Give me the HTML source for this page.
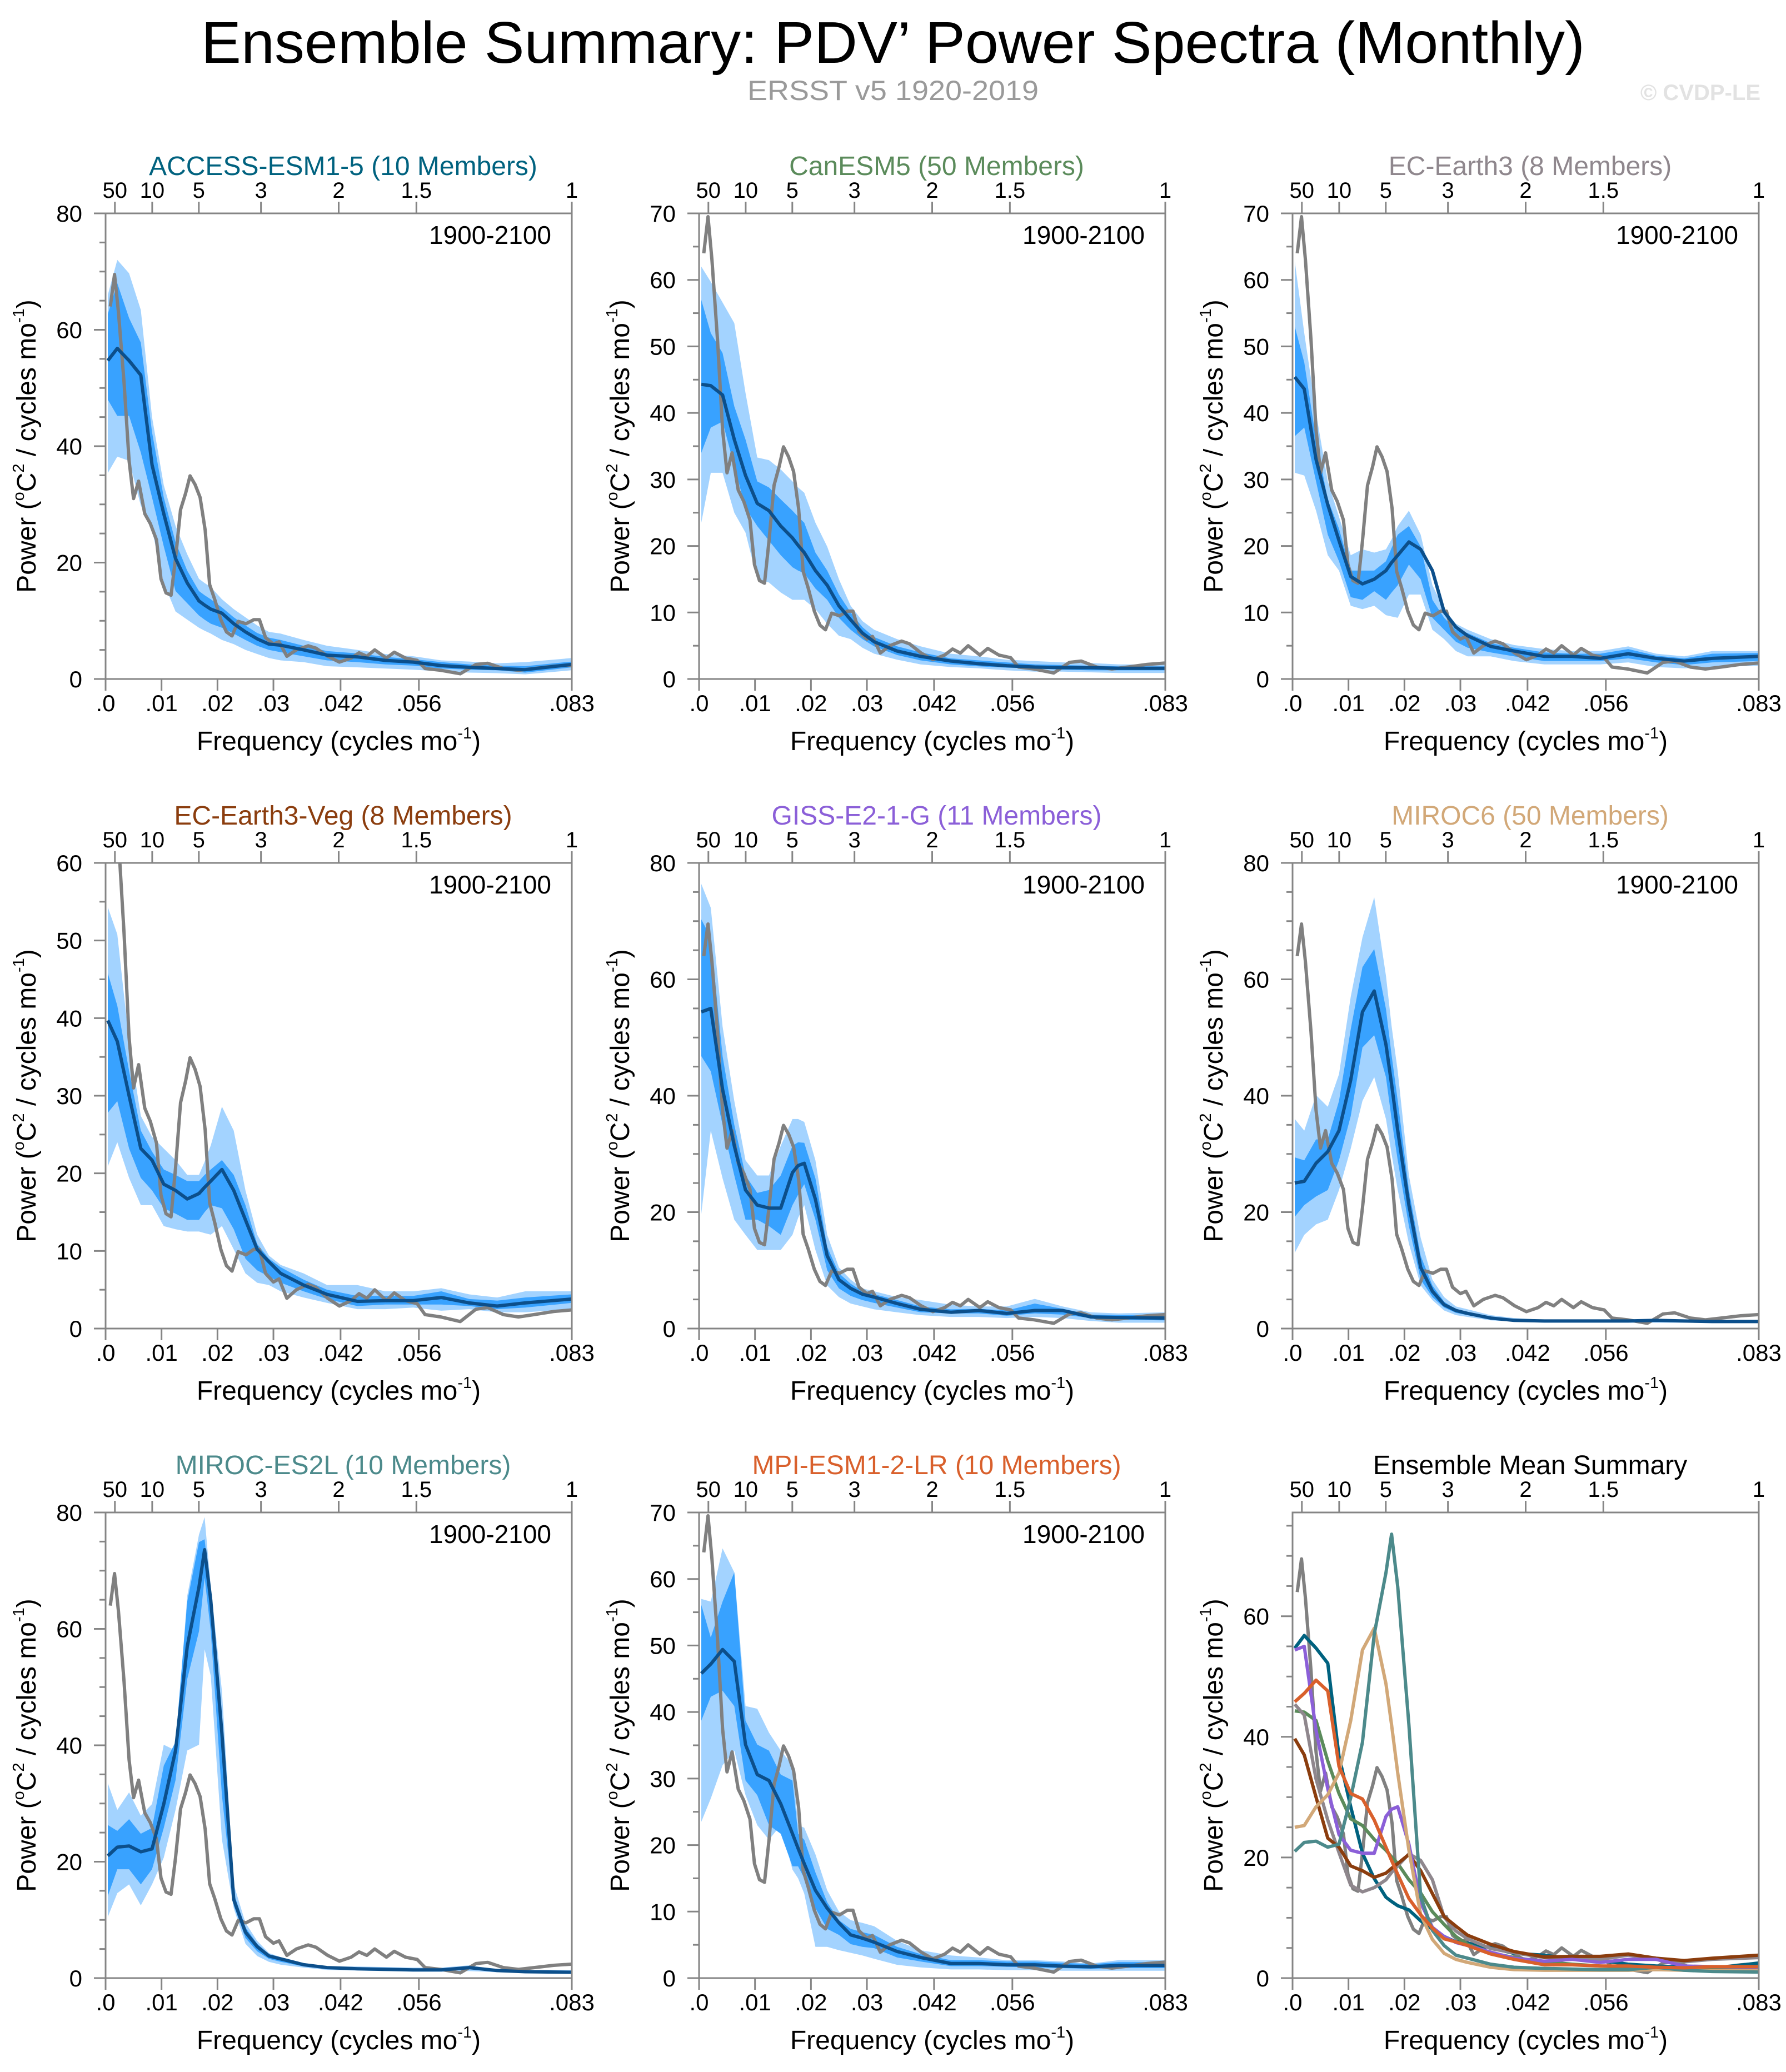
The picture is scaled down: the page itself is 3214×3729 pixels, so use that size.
<!DOCTYPE html>
<html>
<head>
<meta charset="utf-8">
<style>
  html,body{margin:0;padding:0;background:#fff;}
  svg{display:block;font-family:"Liberation Sans",Arial,sans-serif;}
</style>
</head>
<body>
<svg id="chart" xmlns="http://www.w3.org/2000/svg" width="3214" height="3729" viewBox="0 0 3214 3729">
  <rect x="0" y="0" width="3214" height="3729" fill="#ffffff"/>
  <text x="1607" y="113" font-size="106" text-anchor="middle" fill="#000" textLength="2490" lengthAdjust="spacingAndGlyphs">Ensemble Summary: PDV’ Power Spectra (Monthly)</text>
  <text x="1607" y="180" font-size="50" text-anchor="middle" fill="#9a9a9a" textLength="524" lengthAdjust="spacingAndGlyphs">ERSST v5 1920-2019</text>
  <text x="3168" y="180" font-size="40" font-weight="bold" text-anchor="end" fill="#e2e2e2">© CVDP-LE</text>
</svg>
<script>
// ---------- data ----------
const freqGrid = [.0004,.0021,.0042,.0063,.0083,.0104,.0125,.0146,.0167,.0177,.0188,.0208,.0229,.025,.0271,.0292,.0313,.0354,.0396,.045,.05,.055,.06,.065,.07,.075,.0833];

const obsFreq = [.00084,.0016,.0023,.0033,.0042,.005,.0059,.007,.008,.0091,.0099,.0108,.0117,.0125,.0134,.0143,.0151,.016,.0169,.0178,.0186,.0195,.0206,.0216,.0226,.0237,.0251,.0265,.0275,.0286,.03,.031,.0324,.0341,.0362,.0376,.0397,.0418,.0439,.0453,.0467,.0481,.0502,.0516,.0536,.0557,.0571,.0599,.0634,.0662,.0683,.0711,.0738,.0766,.0801,.0833];
const obsPower = [64,69.5,63,51,37.5,31,34,28.4,26.7,23.9,17.2,14.8,14.4,20.7,29.1,31.9,34.9,33.4,31.2,25.6,16.2,13.7,10.2,8.1,7.4,9.9,9.5,10.2,10.2,7.1,6.0,6.4,3.9,5.0,5.7,5.3,3.9,2.9,3.6,4.5,3.9,5.0,3.6,4.6,3.6,3.2,1.8,1.5,0.9,2.5,2.7,1.8,1.5,1.8,2.2,2.4];

const modelNames = ["ACCESS-ESM1-5 (10 Members)","CanESM5 (50 Members)","EC-Earth3 (8 Members)","EC-Earth3-Veg (8 Members)","GISS-E2-1-G (11 Members)","MIROC6 (50 Members)","MIROC-ES2L (10 Members)","MPI-ESM1-2-LR (10 Members)"];
const modelColors = ["#00627f","#5b8b5b","#8f878d","#8b3d0e","#8b5fd8","#d2a878","#4c8a8b","#d9602c"];
const yMaxes = [80,70,70,60,80,80,80,70,77.2];
const yMajorSteps = [20,10,10,10,20,20,20,10,20];

const accessMean = [54.7,56.8,54.7,52.2,36.8,28.4,20.7,16.5,13.4,12.7,12,11.3,9.5,8.1,6.9,6.0,5.8,5.0,4.1,3.8,3.2,2.9,2.3,2.0,1.8,1.6,2.5];
const accessP90 = [66,72,69.7,63.4,45,33.3,26.3,21.4,17.2,16.5,15.8,13.7,12,10.6,9.2,8.1,7.8,6.7,5.7,5.0,4.3,3.9,3.2,3.0,2.7,2.9,3.6];
const accessP10 = [35.4,38.2,37.5,29.8,25.6,16.5,11.6,10.2,8.8,8.3,7.8,6.7,6.0,5.0,4.3,3.6,3.2,2.9,2.2,2.0,1.8,1.6,1.3,1.1,1.0,0.8,1.5];
const accessP75 = [62.7,68,62,57.8,42.4,31.2,23.5,18.6,15.1,14.4,13.7,12.3,10.6,9.2,7.9,7.1,6.7,5.7,4.8,4.4,3.8,3.4,2.9,2.5,2.3,2.2,3.0];
const accessP25 = [48,45.2,45.2,38.9,31.2,22.8,15.1,13,10.9,10.2,9.5,8.8,7.8,6.7,5.7,5.0,4.6,3.9,3.2,2.9,2.5,2.3,1.8,1.6,1.5,1.1,2.0];

const canMean = [44.3,44.1,42.7,36,30.6,26.4,25.3,23,21.2,20.1,19,16.3,14.1,11,8.9,6.9,5.6,4.2,3.4,2.7,2.3,2.0,1.8,1.7,1.7,1.6,1.6];
const canP90 = [62,59.7,56.6,53.5,43,33.3,32.9,31.5,29.7,28.8,28,23.5,19.9,15,11,8.7,7.4,6.0,4.9,3.8,3.4,2.9,2.7,2.5,2.4,2.2,2.2];
const canP10 = [23.5,31,31,25,22,15,14.5,13,11.9,11.9,11.9,10.5,8.3,6.5,6,4.7,3.8,2.9,2.2,1.8,1.6,1.3,1.1,1.1,1.0,0.9,0.9];
const canP75 = [57,52,49,41,36,29.7,28.8,27,25.3,24.4,23.5,19,16.3,12.7,10,7.8,6.3,4.9,4.0,3.1,2.8,2.5,2.2,2.1,2.0,1.9,1.9];
const canP25 = [34,37.8,38.7,32,25.7,23,20.8,18.6,16.8,16.3,15.9,13.6,11.9,9.2,7.4,6.0,4.9,3.6,2.8,2.2,1.9,1.7,1.6,1.4,1.3,1.3,1.3];

const ecMean = [45.4,43.6,33,26.2,20.8,15.4,14.3,15,16.3,17.5,18.6,20.6,19.5,16.3,10.1,7.8,6.5,4.9,4.2,3.4,3.4,3.1,3.8,3.1,2.7,3.1,3.4];
const ecP90 = [62.8,52,40,29.7,24.4,18.6,19.5,19,19.5,21,23,25.3,21.7,14.1,10.5,8.3,7.4,6.0,5.1,4.5,4.2,4.2,4.9,3.8,3.4,4.2,4.2];
const ecP10 = [31,30.6,25.3,18.6,16.3,11,10.5,11,9.6,9.4,9.2,12.7,12.7,7.4,6.0,4.2,3.4,3.4,2.7,2.2,2.2,2.2,2.5,1.8,1.6,1.8,2.0];
const ecP75 = [53,47.6,36,27,22.6,16.3,16.3,16.3,17.7,19.7,21.7,23,19.9,11.9,9.2,7.4,6.9,5.4,4.7,4.0,3.8,3.8,4.5,3.5,3.1,3.8,3.9];
const ecP25 = [36.5,37.8,29.7,21.7,17.7,12.3,11.9,13.2,11.9,13,14.1,17.2,15,9.2,7.4,5.6,4.7,4.0,3.4,2.7,2.7,2.7,3.1,2.5,2.1,2.5,2.7];

const vegMean = [39.7,37,30,23.2,21.7,18.6,17.8,16.7,17.4,18.2,19,20.5,17.8,14,10.2,8.6,7.1,5.6,4.4,3.5,3.6,3.6,4.0,3.3,2.9,3.3,3.8];
const vegP90 = [54.3,50.8,37,27.4,24.7,23.2,21.7,19.8,19.8,21.5,23.6,28.6,25.5,17.8,12.1,9.4,8.2,7.1,5.6,5.6,4.8,4.8,5.2,4.4,4.0,4.8,4.8];
const vegP10 = [20.9,24,19.4,15.9,15.9,13.2,12.8,12.5,12.5,12.3,12.1,13.2,10.2,7.1,5.9,5.6,4.8,4.0,3.3,2.5,2.5,2.7,2.3,2.5,2.1,2.1,2.5];
const vegP75 = [45.8,41.6,33.2,25.5,22.8,20.5,19.8,19,19,19.8,20.5,21.7,19.8,15.9,10.9,9.0,7.9,6.3,5.0,4.2,4.2,4.2,4.8,3.8,3.6,4.0,4.4];
const vegP25 = [27.8,29.3,23.2,19.4,17.8,15.5,14.8,14,14,15,15.9,15.5,12.8,9.0,7.5,6.7,5.9,4.8,3.8,2.9,3.1,3.1,3.1,2.9,2.5,2.7,3.3];

const gissMean = [54.4,55,41.1,31.4,23.8,21.2,20.7,20.7,26.8,28,28.4,22.2,12.5,8.4,6.9,5.9,5.4,4.3,3.3,2.8,3.1,2.6,3.1,3.1,2.0,1.9,1.8];
const gissP90 = [76.4,72.3,51.9,39.1,28.9,26.3,26.3,31.4,36,36,35.5,28.9,16.1,10.5,8.4,6.9,6.4,5.4,4.9,4.1,3.8,3.8,5.1,3.8,2.8,2.6,2.8];
const gissP10 = [19.7,34,25.8,18.7,16.1,13.5,13.5,13.5,16.1,19,21.2,13.5,7.4,5.4,4.3,3.8,3.3,2.8,2.3,2.0,2.0,1.8,2.0,1.8,1.3,1.0,1.0];
const gissP75 = [70.3,67.2,46.8,35,26.3,23.3,23.8,26.3,31.4,32,31.9,25.8,14,9.5,7.7,6.4,5.9,4.9,3.8,3.3,3.4,3.1,4.3,3.4,2.4,2.3,2.3];
const gissP25 = [46.8,44.2,35,26.3,18.7,18.7,17.6,16.1,21.2,23,24.8,18.7,10,6.9,5.6,4.9,4.4,3.6,2.8,2.6,2.6,2.2,2.6,2.4,1.8,1.5,1.4];

const miroc6Mean = [25,25.3,28.4,30.4,34,42.7,54.4,58,48.8,42,34,21.2,10.5,6.4,4.1,3.1,2.6,1.8,1.4,1.3,1.3,1.3,1.3,1.4,1.3,1.2,1.2];
const miroc6P90 = [36,34,40.1,38.1,43.7,57,67.2,74.1,60.6,52,44.2,26.3,15.6,8.4,5.4,3.8,3.3,2.3,1.8,1.5,1.5,1.5,1.5,1.6,1.5,1.4,1.4];
const miroc6P10 = [13,16.1,17.9,18.7,23.8,30.9,39.1,43.2,36,30,23.8,14.6,7.4,4.9,3.1,2.3,2.0,1.4,1.2,1.0,1.0,1.0,1.0,1.0,1.0,1.0,1.0];
const miroc6P75 = [29.4,28.9,32.5,32.5,39.1,51.4,62.1,65.2,54.9,47,39.1,23.8,12.5,7.4,4.6,3.3,2.8,1.9,1.5,1.4,1.4,1.4,1.4,1.4,1.3,1.3,1.3];
const miroc6P25 = [19.2,21.2,22.7,23.8,28.9,36.5,48.3,50.4,43.2,36,28.9,17.6,8.4,5.4,3.6,2.7,2.3,1.6,1.3,1.2,1.2,1.2,1.2,1.2,1.1,1.1,1.1];

const es2lMean = [21,22.5,22.7,21.7,22.2,29.9,39.1,57,67.2,73.6,64.9,42,13.5,7.9,5.4,3.8,3.3,2.3,1.8,1.6,1.5,1.4,1.4,1.8,1.3,1.1,1.0];
const es2lP90 = [33.5,28.9,31.9,27.9,29.9,40.1,39.1,65.7,76.2,79.2,67.2,49.3,16.1,9.5,6.4,4.3,3.6,2.6,2.0,2.0,1.9,1.8,1.8,2.2,1.5,1.4,1.4];
const es2lP10 = [10.5,14.6,16.1,12.5,16.1,20.7,28.9,39.1,40.1,56.5,51.9,23.8,12,5.9,3.8,2.8,2.3,1.8,1.4,1.3,1.2,1.1,1.1,1.2,1.0,0.9,0.8];
const es2lP75 = [26.3,25.3,27.3,24.8,25.8,36.5,40.6,64.7,74.9,75.4,65.7,44.2,14.6,8.7,5.9,4.1,3.4,2.4,1.9,1.8,1.7,1.6,1.6,2.0,1.4,1.3,1.2];
const es2lP25 = [14.1,18.7,18.7,16.1,18.7,25.8,34,51.4,59.6,68.8,59.6,31.4,12.5,6.9,4.6,3.3,2.8,2.0,1.6,1.5,1.4,1.3,1.3,1.6,1.2,1.0,0.9];

const mpiMean = [45.8,47.2,49.4,47.6,35.1,30.6,29.7,26.2,21.7,19.5,17.2,13.2,10.5,8.3,6.5,6.0,5.4,4.0,3.1,2.2,2.2,2.0,2.0,1.8,1.7,1.9,1.9];
const mpiP90 = [57,56.6,64.6,61,40.9,40.5,36.9,34.2,32,23,22.6,18.6,13.2,10,8.7,8.3,7.8,5.6,4.2,3.4,3.1,2.7,2.7,2.5,2.2,2.7,2.7];
const mpiP10 = [23.5,27,32,34.2,27.5,23,20.8,23,16.3,15,12.7,4.7,4.7,4.2,3.8,3.4,2.9,2.0,1.6,1.3,1.3,1.2,1.2,1.1,1.1,1.1,1.1];
const mpiP75 = [56.1,51.2,56.6,61,38.7,35.1,34.2,30.6,29.7,21.7,20.8,15.9,11.4,8.7,7.4,6.9,6.5,4.7,3.6,2.7,2.7,2.5,2.5,2.3,2.1,2.4,2.4];
const mpiP25 = [38.7,42.3,43.2,40.9,29.7,27.5,23,21.7,16.8,16.8,15,10.5,7.4,6.5,5.1,4.7,4.5,3.1,2.5,1.8,1.8,1.7,1.6,1.5,1.4,1.5,1.5];

const bottomTickFreqs = [0,.01,.02,.03,.042,.056,1/12];
const bottomTickLabels = [".0",".01",".02",".03",".042",".056",".083"];
const topTickPeriods = [50,10,5,3,2,1.5,1];
const topTickLabels = ["50","10","5","3","2","1.5","1"];

// ---------- layout ----------
const FMAX = 1/12;
const PW = 839, PH = 838;
const colLeft = [190,1258,2326];
const rowTop = [384,1553,2722];
const NS = "http://www.w3.org/2000/svg";
const svg = document.getElementById("chart");

const models = [
  {mean:accessMean,p90:accessP90,p10:accessP10,p75:accessP75,p25:accessP25},
  {mean:canMean,p90:canP90,p10:canP10,p75:canP75,p25:canP25},
  {mean:ecMean,p90:ecP90,p10:ecP10,p75:ecP75,p25:ecP25},
  {mean:vegMean,p90:vegP90,p10:vegP10,p75:vegP75,p25:vegP25},
  {mean:gissMean,p90:gissP90,p10:gissP10,p75:gissP75,p25:gissP25},
  {mean:miroc6Mean,p90:miroc6P90,p10:miroc6P10,p75:miroc6P75,p25:miroc6P25},
  {mean:es2lMean,p90:es2lP90,p10:es2lP10,p75:es2lP75,p25:es2lP25},
  {mean:mpiMean,p90:mpiP90,p10:mpiP10,p75:mpiP75,p25:mpiP25}
];

function mk(tag, attrs, parent){
  const e = document.createElementNS(NS, tag);
  for (const k in attrs) e.setAttribute(k, attrs[k]);
  (parent||svg).appendChild(e);
  return e;
}

function drawPanel(idx){
  const x0 = colLeft[idx%3], y0 = rowTop[Math.floor(idx/3)];
  const ymax = yMaxes[idx], step = yMajorSteps[idx];
  const xs = f => x0 + f/FMAX*PW;
  const ys = v => y0 + PH - v/ymax*PH;
  const g = mk("g", {});
  
  

  const cid = "clip"+idx;
  const cp = mk("clipPath", {id:cid}, g);
  mk("rect", {x:x0, y:y0, width:PW, height:PH}, cp);
  const plot = mk("g", {"clip-path":"url(#"+cid+")"}, g);

  const line = (fArr, vArr) => fArr.map((f,i)=>xs(f).toFixed(1)+","+ys(vArr[i]).toFixed(1)).join(" ");
  const band = (hi, lo) => {
    const a = freqGrid.map((f,i)=>xs(f).toFixed(1)+","+ys(hi[i]).toFixed(1));
    const b = freqGrid.map((f,i)=>xs(f).toFixed(1)+","+ys(lo[i]).toFixed(1)).reverse();
    return a.concat(b).join(" ");
  };

  if (idx < 8){
    const m = models[idx];
    const b1 = mk("polygon", {points:band(m.p90,m.p10), fill:"#a3d3ff", stroke:"none"}, plot);
    
    
    const b2 = mk("polygon", {points:band(m.p75,m.p25), fill:"#38a2ff", stroke:"none"}, plot);
    
    
    const ob = mk("polyline", {points:line(obsFreq,obsPower), fill:"none", stroke:"#808080", "stroke-width":6, "stroke-linejoin":"round"}, plot);
    
    
    const ml = mk("polyline", {points:line(freqGrid,m.mean), fill:"none", stroke:"#0c4f8b", "stroke-width":6, "stroke-linejoin":"round"}, plot);
    
    
    const yr = mk("text", {x:x0+PW-37, y:y0+55, "font-size":46, "text-anchor":"end", fill:"#000"}, g);
    yr.textContent = "1900-2100";
    
    
  } else {
    const ob = mk("polyline", {points:line(obsFreq,obsPower), fill:"none", stroke:"#808080", "stroke-width":6, "stroke-linejoin":"round"}, plot);
    
    
    models.forEach((m,k)=>{
      const l = mk("polyline", {points:line(freqGrid,m.mean), fill:"none", stroke:modelColors[k], "stroke-width":6, "stroke-linejoin":"round"}, plot);
      
      
    });
  }

  const fr = mk("rect", {x:x0, y:y0, width:PW, height:PH, fill:"none", stroke:"#858585", "stroke-width":3}, g);
  
  

  for (let v=0; v<=ymax+1e-6; v+=5){
    const major = Math.abs(v/step - Math.round(v/step)) < 1e-6;
    const yy = ys(v);
    mk("line", {x1:x0-(major?21:11), x2:x0, y1:yy, y2:yy, stroke:"#858585", "stroke-width":3}, g);
    if (major){
      const t = mk("text", {x:x0-42, y:yy+15, "font-size":42, "text-anchor":"end", fill:"#000"}, g);
      t.textContent = String(v);
      
      
    }
  }
  bottomTickFreqs.forEach((f,i)=>{
    const xx = xs(f);
    mk("line", {x1:xx, x2:xx, y1:y0+PH, y2:y0+PH+21, stroke:"#858585", "stroke-width":3}, g);
    const t = mk("text", {x:xx, y:y0+PH+58, "font-size":42, "text-anchor":"middle", fill:"#000"}, g);
    t.textContent = bottomTickLabels[i];
    
    
  });
  topTickPeriods.forEach((p,i)=>{
    const xx = xs(1/(p*12));
    mk("line", {x1:xx, x2:xx, y1:y0, y2:y0-21, stroke:"#858585", "stroke-width":3}, g);
    const t = mk("text", {x:xx, y:y0-28, "font-size":40, "text-anchor":"middle", fill:"#000"}, g);
    t.textContent = topTickLabels[i];
    
    
  });

  const tt = mk("text", {x:x0+PW/2+8, y:y0-69, "font-size":48, "text-anchor":"middle", fill: idx<8 ? modelColors[idx] : "#000"}, g);
  tt.textContent = idx<8 ? modelNames[idx] : "Ensemble Mean Summary";
  
  

  const xt = mk("text", {x:x0+PW/2, y:y0+PH+128, "font-size":48, "text-anchor":"middle", fill:"#000"}, g);
  xt.innerHTML = 'Frequency (cycles mo<tspan font-size="29" dy="-21">-1</tspan><tspan dy="21">)</tspan>';
  
  

  const cx = x0-126, cy = y0+PH/2;
  const yt = mk("text", {x:cx, y:cy, "font-size":48, "text-anchor":"middle", fill:"#000", transform:"rotate(-90 "+cx+" "+cy+")"}, g);
  yt.innerHTML = 'Power (<tspan font-size="29" dy="-21">o</tspan><tspan dy="21">C</tspan><tspan font-size="29" dy="-21">2</tspan><tspan dy="21"> / cycles mo</tspan><tspan font-size="29" dy="-21">-1</tspan><tspan dy="21">)</tspan>';
  
  
}

for (let i=0;i<9;i++) drawPanel(i);
</script>
</body>
</html>
